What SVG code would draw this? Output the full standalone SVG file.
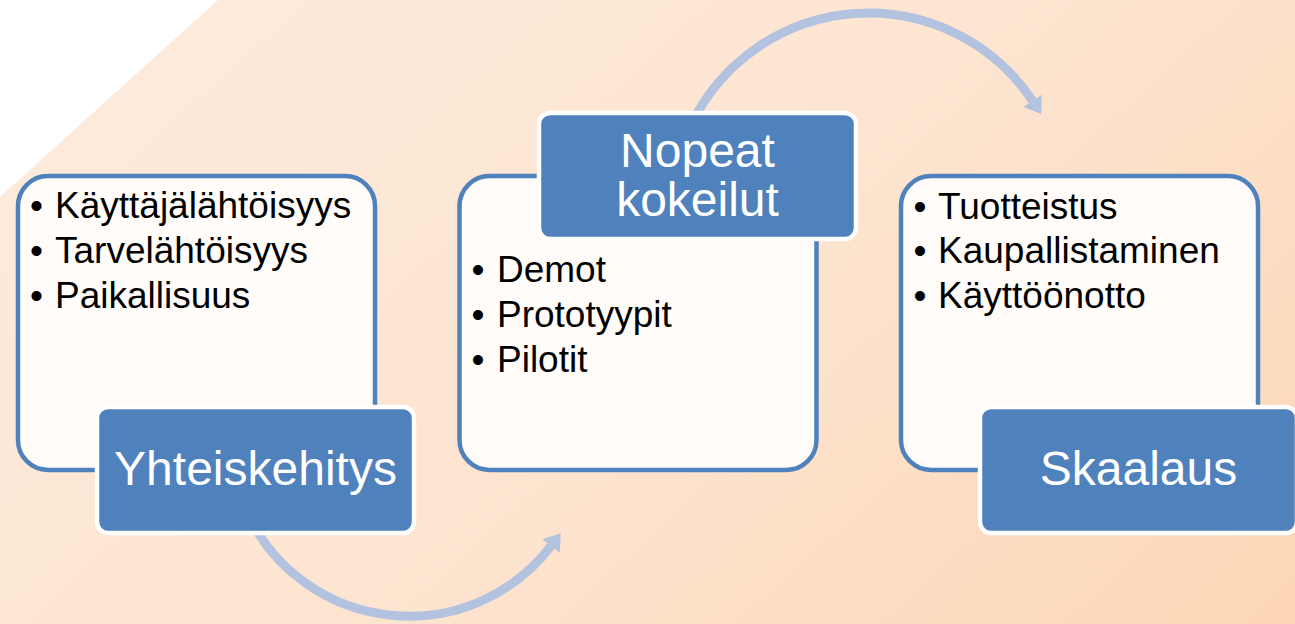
<svg xmlns="http://www.w3.org/2000/svg" width="1295" height="624" viewBox="0 0 1295 624">
  <defs>
    <linearGradient id="bg" gradientUnits="userSpaceOnUse" x1="110" y1="100" x2="903" y2="978">
      <stop offset="0" stop-color="#FDEADB"/>
      <stop offset="0.5" stop-color="#FDE4CF"/>
      <stop offset="1" stop-color="#FCD6B6"/>
    </linearGradient>
    <marker id="arrow" markerUnits="userSpaceOnUse" viewBox="0 0 16 22" refX="0" refY="11" markerWidth="16" markerHeight="22" orient="auto">
      <path d="M0,0 L16,11 L0,22 z" fill="#B3C3DF"/>
    </marker>
  </defs>
  <style>
    .box { fill: #FFFCF9; stroke: #4F81BD; stroke-width: 4.5; }
    .label { fill: #4F81BD; stroke: #FFFFFF; stroke-width: 4.5; }
    .conn { fill: none; stroke: #B3C3DF; stroke-width: 9; }
    .bullet { font-family: "Liberation Sans", Arial, sans-serif; font-size: 37px; fill: #000000; }
    .title { font-family: "Liberation Sans", Arial, sans-serif; font-size: 48px; fill: #FFFFFF; text-anchor: middle; }
  </style>

  <rect x="0" y="0" width="1295" height="624" fill="url(#bg)"/>
  <polygon points="0,0 218,0 0,197" fill="#FFFFFF"/>

  <g id="connectors">
    <path class="conn" d="M250.7,520 A178.5,178.5 0 0 0 551,546" marker-end="url(#arrow)"/>
    <path class="conn" d="M691,125 A196.9,196.9 0 0 1 1032.5,100.8" marker-end="url(#arrow)"/>
  </g>

  <g id="yhteiskehitys">
    <rect class="box" x="18" y="176" width="357" height="294" rx="30" ry="30"/>
    <text class="bullet" y="218"><tspan x="30">•</tspan><tspan x="55">Käyttäjälähtöisyys</tspan></text>
    <text class="bullet" y="263"><tspan x="30">•</tspan><tspan x="55">Tarvelähtöisyys</tspan></text>
    <text class="bullet" y="308"><tspan x="30">•</tspan><tspan x="55">Paikallisuus</tspan></text>
    <rect class="label" x="97" y="407" width="317" height="126" rx="11" ry="11"/>
    <text class="title" x="255.5" y="485">Yhteiskehitys</text>
  </g>

  <g id="nopeat-kokeilut">
    <rect class="box" x="459.5" y="176" width="357" height="294" rx="30" ry="30"/>
    <text class="bullet" y="282"><tspan x="471.5">•</tspan><tspan x="497">Demot</tspan></text>
    <text class="bullet" y="327"><tspan x="471.5">•</tspan><tspan x="497">Prototyypit</tspan></text>
    <text class="bullet" y="372"><tspan x="471.5">•</tspan><tspan x="497">Pilotit</tspan></text>
    <rect class="label" x="539" y="113" width="317" height="126" rx="11" ry="11"/>
    <text class="title" x="697.5" y="167">Nopeat</text>
    <text class="title" x="697.5" y="216">kokeilut</text>
  </g>

  <g id="skaalaus">
    <rect class="box" x="901" y="176" width="357" height="294" rx="30" ry="30"/>
    <text class="bullet" y="219"><tspan x="913.5">•</tspan><tspan x="938">Tuotteistus</tspan></text>
    <text class="bullet" y="263"><tspan x="913.5">•</tspan><tspan x="938">Kaupallistaminen</tspan></text>
    <text class="bullet" y="308"><tspan x="913.5">•</tspan><tspan x="938">Käyttöönotto</tspan></text>
    <rect class="label" x="980" y="407" width="317" height="126" rx="11" ry="11"/>
    <text class="title" x="1138.5" y="485">Skaalaus</text>
  </g>
</svg>
